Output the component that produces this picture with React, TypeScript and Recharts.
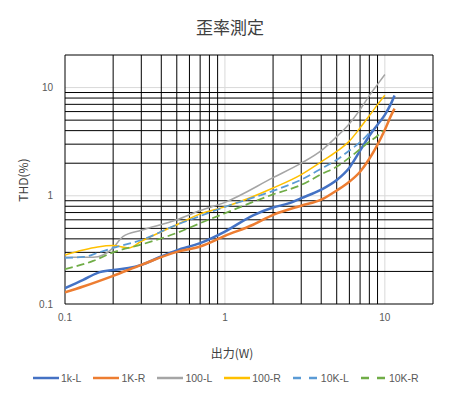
import React from 'react';
import { LineChart, Line, XAxis, YAxis, ReferenceLine } from 'recharts';

const x1kL = [0.1, 0.13, 0.16, 0.2, 0.25, 0.3, 0.4, 0.5, 0.7, 1, 1.5, 2, 2.5, 3, 4, 5, 6, 7, 8, 9, 10, 11, 11.5];
const thd1kL = [0.14, 0.167, 0.194, 0.206, 0.215, 0.23, 0.275, 0.313, 0.365, 0.467, 0.66, 0.78, 0.85, 0.95, 1.14, 1.4, 1.82, 2.61, 3.59, 4.54, 5.6, 7.26, 8.43];

const x1kR = [0.1, 0.13, 0.2, 0.3, 0.5, 0.7, 1, 1.5, 2, 3, 4, 5, 6, 7, 8, 9, 10, 11, 11.5];
const thd1kR = [0.128, 0.145, 0.182, 0.23, 0.303, 0.34, 0.426, 0.54, 0.667, 0.81, 0.92, 1.12, 1.35, 1.67, 2.2, 2.97, 4.08, 5.62, 6.39];

const x100L = [0.1, 0.15, 0.2, 0.23, 0.3, 0.5, 0.7, 1, 2, 3, 4, 5, 6, 7, 8, 9, 10];
const thd100L = [0.27, 0.27, 0.33, 0.42, 0.48, 0.6, 0.73, 0.87, 1.47, 2.0, 2.61, 3.52, 4.64, 6.26, 8.43, 10.7, 13.2];

const x100R = [0.1, 0.13, 0.16, 0.2, 0.25, 0.3, 0.5, 0.7, 1, 2, 3, 4, 5, 6, 7, 8, 9, 10];
const thd100R = [0.284, 0.316, 0.337, 0.347, 0.33, 0.38, 0.54, 0.68, 0.79, 1.18, 1.57, 2.06, 2.57, 3.2, 4.24, 5.5, 6.96, 8.5];

const x10kL = [0.1, 0.13, 0.16, 0.2, 0.3, 0.5, 0.7, 1, 2, 3, 4, 5, 6, 7, 8, 8.3];
const thd10kL = [0.267, 0.272, 0.297, 0.33, 0.39, 0.54, 0.65, 0.79, 1.11, 1.41, 1.78, 2.15, 2.62, 3.13, 3.83, 4.08];

const x10kR = [0.1, 0.15, 0.2, 0.3, 0.5, 0.7, 1, 2, 3, 4, 5, 6, 7, 8, 9, 9.7];
const thd10kR = [0.21, 0.25, 0.3, 0.354, 0.454, 0.558, 0.69, 1.03, 1.26, 1.58, 1.86, 2.25, 2.7, 3.16, 3.59, 4.0];

const decadeTicks = [0.1, 1, 10];
const minorLines = [0.1, 0.2, 0.3, 0.4, 0.5, 0.6, 0.7, 0.8, 0.9, 2, 3, 4, 5, 6, 7, 8, 9, 20];
const majorLines = [1, 10];

const toPoints = (xs: number[], ys: number[]) => xs.map((x, i) => ({ x, y: ys[i] }));

const series = [
  { name: '1k-L', data: toPoints(x1kL, thd1kL), color: '#4472C4', width: 2.5, dash: undefined },
  { name: '1K-R', data: toPoints(x1kR, thd1kR), color: '#ED7D31', width: 2.5, dash: undefined },
  { name: '100-L', data: toPoints(x100L, thd100L), color: '#A5A5A5', width: 1.5, dash: undefined },
  { name: '100-R', data: toPoints(x100R, thd100R), color: '#FFC000', width: 1.5, dash: undefined },
  { name: '10K-L', data: toPoints(x10kL, thd10kL), color: '#5B9BD5', width: 1.75, dash: '8 4' },
  { name: '10K-R', data: toPoints(x10kR, thd10kR), color: '#70AD47', width: 1.75, dash: '8 4' },
];

const textColor = '#595959';
const jpFont = '"Noto Sans CJK JP", "Noto Sans", sans-serif';

export default function App() {
  return (
    <div style={{ position: 'fixed', left: 0, top: 0, width: 450, height: 396, background: '#fff', fontFamily: jpFont }}>
      <div style={{ position: 'absolute', top: 14, left: 0, width: 460, textAlign: 'center', fontSize: 17, color: '#404040' }}>
        歪率測定
      </div>
      <LineChart width={450} height={396} margin={{ top: 55, right: 17, bottom: 62, left: 0 }}>
        <XAxis
          type="number"
          dataKey="x"
          scale="log"
          domain={[0.1, 20]}
          allowDataOverflow
          ticks={decadeTicks}
          tickFormatter={(v: number) => String(v)}
          axisLine={false}
          tickLine={false}
          tickMargin={4}
          height={30}
          tick={{ fill: textColor, fontSize: 10, fontFamily: 'Liberation Sans, sans-serif' }}
        />
        <YAxis
          type="number"
          dataKey="y"
          scale="log"
          domain={[0.1, 20]}
          allowDataOverflow
          ticks={decadeTicks}
          tickFormatter={(v: number) => String(v)}
          axisLine={false}
          tickLine={false}
          tickMargin={6}
          width={65}
          tick={{ fill: textColor, fontSize: 10, fontFamily: 'Liberation Sans, sans-serif' }}
        />
        {majorLines.map((v) => (
          <ReferenceLine key={'mx' + v} x={v} stroke="#D9D9D9" strokeWidth={1} />
        ))}
        {majorLines.map((v) => (
          <ReferenceLine key={'my' + v} y={v} stroke="#D9D9D9" strokeWidth={1} />
        ))}
        {minorLines.map((v) => (
          <ReferenceLine key={'nx' + v} x={v} stroke="#000" strokeWidth={1} />
        ))}
        {minorLines.map((v) => (
          <ReferenceLine key={'ny' + v} y={v} stroke="#000" strokeWidth={1} />
        ))}
        {series.map((s) => (
          <Line
            key={s.name}
            name={s.name}
            data={s.data}
            dataKey="y"
            type="monotone"
            stroke={s.color}
            strokeWidth={s.width}
            strokeDasharray={s.dash}
            dot={false}
            activeDot={false}
            isAnimationActive={false}
          />
        ))}
      </LineChart>
      <div
        style={{
          position: 'absolute', left: 22, top: 180, transform: 'translate(-50%, -50%) rotate(-90deg)',
          fontSize: 12, color: '#404040', whiteSpace: 'nowrap',
        }}
      >
        THD(%)
      </div>
      <div
        style={{
          position: 'absolute', left: 232, top: 352, transform: 'translate(-50%, -50%)',
          fontSize: 12, color: '#404040', whiteSpace: 'nowrap',
        }}
      >
        出力(W)
      </div>
      <div style={{ position: 'absolute', left: 33, top: 372, display: 'flex', alignItems: 'center' }}>
        {series.map((s) => (
          <div key={s.name} style={{ display: 'flex', alignItems: 'center', marginRight: 12 }}>
            <svg width={26} height={6}>
              <line x1={0} y1={3} x2={26} y2={3} stroke={s.color} strokeWidth={2.5} strokeDasharray={s.dash ? '8 8' : undefined} />
            </svg>
            <span style={{ fontSize: 10.5, color: textColor, marginLeft: 2, fontFamily: 'Liberation Sans, sans-serif' }}>{s.name}</span>
          </div>
        ))}
      </div>
    </div>
  );
}
